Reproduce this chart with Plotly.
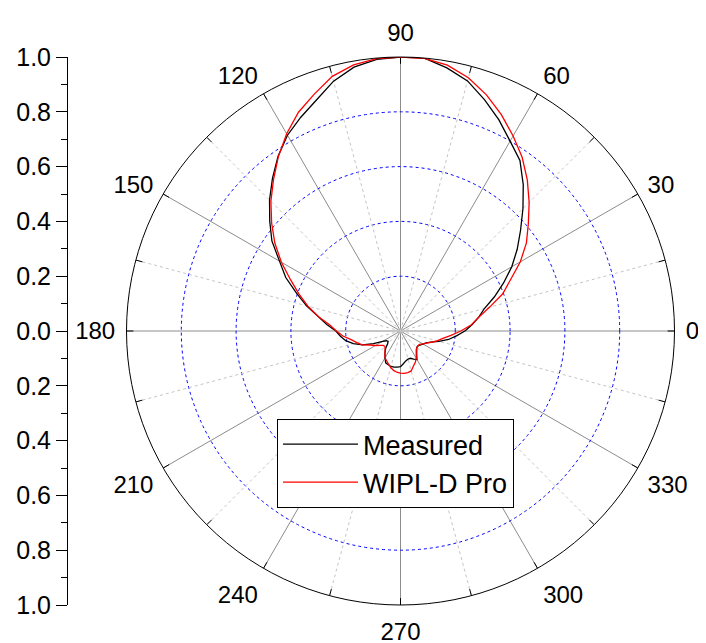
import plotly.graph_objects as go

# ---------------- data ----------------
theta_deg = [0, 5, 10, 15, 20, 25, 30, 35, 40, 45, 50, 55, 60, 65, 70, 75, 80, 85, 90,
             95, 100, 105, 110, 115, 120, 125, 130, 135, 140, 145, 150, 155, 160, 165, 170, 175, 180,
             185, 190, 195, 200, 205, 210, 215, 220, 225, 230, 235, 240, 245, 250, 255, 260, 265, 270,
             275, 280, 285, 290, 295, 300, 305, 310, 315, 320, 325, 330, 335, 340, 345, 350, 355, 360]

measured_r = [0.235, 0.262, 0.290, 0.317, 0.365, 0.415, 0.469, 0.520, 0.572, 0.632, 0.697, 0.760, 0.800, 0.850, 0.898, 0.945, 0.975, 1.000, 1.000,
              0.995, 0.978, 0.944, 0.897, 0.861, 0.825, 0.779, 0.727, 0.676, 0.623, 0.573, 0.510, 0.462, 0.404, 0.355, 0.305, 0.270, 0.236,
              0.220, 0.203, 0.178, 0.147, 0.109, 0.075, 0.062, 0.059, 0.067, 0.085, 0.099, 0.113, 0.128, 0.131, 0.134, 0.134, 0.132, 0.130,
              0.120, 0.111, 0.106, 0.106, 0.113, 0.120, 0.103, 0.092, 0.084, 0.084, 0.089, 0.095, 0.103, 0.118, 0.145, 0.178, 0.205, 0.235]

wipld_r = [0.220, 0.260, 0.290, 0.337, 0.397, 0.443, 0.505, 0.561, 0.609, 0.664, 0.720, 0.774, 0.822, 0.871, 0.917, 0.957, 0.985, 0.999, 1.000,
           0.998, 0.986, 0.962, 0.920, 0.881, 0.831, 0.777, 0.721, 0.669, 0.614, 0.560, 0.502, 0.443, 0.394, 0.350, 0.305, 0.260, 0.234,
           0.211, 0.183, 0.165, 0.149, 0.121, 0.106, 0.092, 0.082, 0.080, 0.088, 0.099, 0.113, 0.120, 0.128, 0.138, 0.146, 0.151, 0.154,
           0.155, 0.154, 0.151, 0.137, 0.127, 0.115, 0.100, 0.089, 0.085, 0.083, 0.085, 0.094, 0.104, 0.120, 0.138, 0.157, 0.185, 0.220]

angle_ticks = [0, 30, 60, 90, 120, 150, 180, 210, 240, 270, 300, 330]
angle_labels = [str(a) for a in angle_ticks]
minor_spokes = [15, 45, 75, 105, 135, 165, 195, 225, 255, 285, 315, 345]
ring_values = [0.2, 0.4, 0.6, 0.8, 1.0]
left_tick_vals = [1.0, 0.8, 0.6, 0.4, 0.2, 0.0, -0.2, -0.4, -0.6, -0.8, -1.0]
left_tick_text = ["1.0", "0.8", "0.6", "0.4", "0.2", "0.0", "0.2", "0.4", "0.6", "0.8", "1.0"]
left_minor_vals = [0.9, 0.7, 0.5, 0.3, 0.1, -0.1, -0.3, -0.5, -0.7, -0.9]

# ---------------- layout geometry ----------------
# the page places the figure 8 px in from the window's corner, so the figure
# coordinates below are the wanted screen positions minus that offset
W, H = 706, 643
OFF = 8
cx, cy, R = 400.5 - OFF, 331.0 - OFF, 274.0
axis_x = 67 - OFF
leg_x, leg_y = 277 - OFF, 419 - OFF
FONT = "Arial, Liberation Sans, Helvetica, sans-serif"

px0, px1 = (cx - R) / W, (cx + R) / W
py0, py1 = (H - cy - R) / H, (H - cy + R) / H

fig = go.Figure()

# dotted light-grey spokes at the 15-degree offsets (grid decoration)
sp_r, sp_t = [], []
for a in minor_spokes:
    sp_r += [0, 1, None]
    sp_t += [a, a, None]
fig.add_trace(go.Scatterpolar(r=sp_r, theta=sp_t, mode="lines",
                              line=dict(color="#c4c4c4", width=1, dash="dot"),
                              showlegend=False, hoverinfo="skip", connectgaps=False))

# short tick marks on the outer circle every 15 degrees
tk_r, tk_t = [], []
for a in range(0, 360, 15):
    tk_r += [0.975, 1.0, None]
    tk_t += [a, a, None]
fig.add_trace(go.Scatterpolar(r=tk_r, theta=tk_t, mode="lines",
                              line=dict(color="black", width=1),
                              showlegend=False, hoverinfo="skip", connectgaps=False))

fig.add_trace(go.Scatterpolar(r=measured_r, theta=theta_deg, mode="lines", name="Measured",
                              line=dict(color="black", width=1.3)))
fig.add_trace(go.Scatterpolar(r=wipld_r, theta=theta_deg, mode="lines", name="WIPL-D Pro",
                              line=dict(color="#ff0000", width=1.3)))

# invisible trace that carries the left-hand scale axis
fig.add_trace(go.Scatter(x=[None], y=[None], xaxis="x", yaxis="y", showlegend=False, hoverinfo="skip"))

fig.update_layout(
    width=W, height=H,
    margin=dict(l=0, r=0, t=0, b=0, autoexpand=False),
    paper_bgcolor="white", plot_bgcolor="rgba(0,0,0,0)",
    font=dict(family=FONT, color="black"),
    polar=dict(
        domain=dict(x=[px0, px1], y=[py0, py1]),
        bgcolor="white",
        angularaxis=dict(
            rotation=0, direction="counterclockwise",
            tickmode="array", tickvals=angle_ticks, ticktext=angle_labels,
            tickfont=dict(size=24, family=FONT, color="black"),
            showline=True, linecolor="black", linewidth=1,
            showgrid=True, gridcolor="#8c8c8c", gridwidth=1,
            ticks="outside", ticklen=6, tickcolor="rgba(0,0,0,0)",
        ),
        radialaxis=dict(
            range=[0, 1], tickmode="array", tickvals=ring_values,
            showticklabels=False, ticks="", showline=False,
            showgrid=True, gridcolor="#0000ff", gridwidth=1, griddash="dot",
        ),
    ),
    xaxis=dict(domain=[0, 0.05], range=[0, 1], visible=False, fixedrange=True, automargin=False),
    yaxis=dict(
        domain=[py0, py1], range=[-1, 1], anchor="free", position=axis_x / W, side="left",
        automargin=False,
        showline=True, linecolor="black", linewidth=1,
        ticks="outside", ticklen=11, tickwidth=1, tickcolor="black",
        tickmode="array", tickvals=left_tick_vals, ticktext=left_tick_text,
        tickfont=dict(size=25, family=FONT, color="black"),
        showgrid=False, zeroline=False, fixedrange=True,
        minor=dict(tickmode="array", tickvals=left_minor_vals, ticks="outside",
                   ticklen=6, tickwidth=1, tickcolor="black", showgrid=False),
    ),
    legend=dict(
        x=leg_x / W, y=1 - leg_y / H, xanchor="left", yanchor="top",
        bgcolor="white", bordercolor="black", borderwidth=1,
        font=dict(size=27, family=FONT, color="black"),
        itemwidth=75, tracegroupgap=0,
    ),
    showlegend=True,
)

fig.write_html("out.html")
